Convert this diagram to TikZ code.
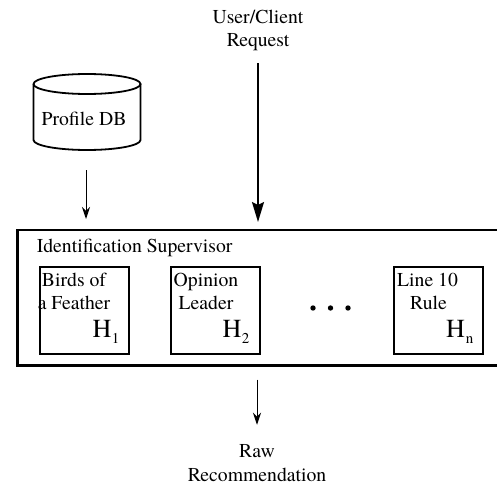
\documentclass[tikz,border=0pt]{standalone}
\usepackage{fontspec}
\setmainfont{texgyretermes}[Extension=.otf, UprightFont=*-regular, BoldFont=*-bold, ItalicFont=*-italic, BoldItalicFont=*-bolditalic]
\usetikzlibrary{arrows.meta}
\begin{document}
\begin{tikzpicture}[x=1pt,y=-1pt,
  txt/.style={font=\fontsize{19.7}{24}\selectfont, inner sep=0pt, anchor=base},
  hbox/.style={draw, line width=2.5pt, minimum width=89pt, minimum height=87pt, anchor=north west, inner sep=0pt},
  hlab/.style={font=\fontsize{26}{26}\selectfont, inner sep=0pt, anchor=base west},
  thinarrow/.style={-{Stealth[length=12pt,width=8pt]}, line width=1pt},
  bigarrow/.style={-{Stealth[length=20pt,width=12pt,inset=3pt]}, line width=2pt},
  dbline/.style={line width=1.8pt}]
\useasboundingbox (0,0) rectangle (497,484);

% request text
\node[txt] (req1) at (258,24) {User/Client};
\node[txt] (req2) at (258,47) {Request};

% profile DB cylinder
\node[inner sep=0pt, minimum width=107pt, minimum height=76pt] (db) at (87,112) {};
\draw[dbline] (33.5,84) arc[start angle=180, end angle=-180, x radius=53.5pt, y radius=10pt];
\draw[dbline] (33.5,84) -- (33.5,140) arc[start angle=180, end angle=360, x radius=53.5pt, y radius=10pt] -- (140.5,84);
\node[txt] (dbtext) at (84,125.5) {Profile DB};

% supervisor box
\node[draw, line width=2.5pt, anchor=north west, minimum width=484pt, minimum height=135.5pt, inner sep=0pt] (sup) at (16,228.5) {};
\node[txt, anchor=base west] (suplab) at (36.6,252) {Identification Supervisor};

% heuristic boxes
\node[hbox] (h1) at (38.5,265.5) {};
\node[hbox] (h2) at (169.5,265.5) {};
\node[hbox] (h3) at (392.5,265.5) {};

\node[txt] (h1a) at (74,286) {Birds of};
\node[txt] (h1b) at (74,309) {a Feather};
\node[txt] (h2a) at (206,286) {Opinion};
\node[txt] (h2b) at (206,309) {Leader};
\node[txt] (h3a) at (427.5,286) {Line 10};
\node[txt] (h3b) at (428.5,309) {Rule};

\node[hlab] (h1l) at (92.5,337) {H\kern0.5pt\raisebox{-6pt}{\fontsize{15}{15}\selectfont 1}};
\node[hlab] (h2l) at (222.5,337) {H\kern0.5pt\raisebox{-6pt}{\fontsize{15}{15}\selectfont 2}};
\node[hlab] (h3l) at (446,337) {H\kern1pt\raisebox{-6pt}{\fontsize{15}{15}\selectfont n}};

% dots
\foreach \x in {313,330.5,348} \fill (\x,308) circle[radius=2.7pt];

% raw recommendation
\node[txt] (raw1) at (257,457) {Raw};
\node[txt] (raw2) at (257,481) {Recommendation};

% arrows
\draw[thinarrow, shorten <=20pt, shorten >=9.5pt] (db.south -| 86,0) -- (86,0 |- sup.north);
\draw[bigarrow, shorten <=11.7pt, shorten >=6.5pt] (req2.south) -- (req2.south |- sup.north);
\draw[thinarrow, shorten <=13pt, shorten >=19pt] (raw1.north |- sup.south) -- (raw1.north);
\end{tikzpicture}
\end{document}
